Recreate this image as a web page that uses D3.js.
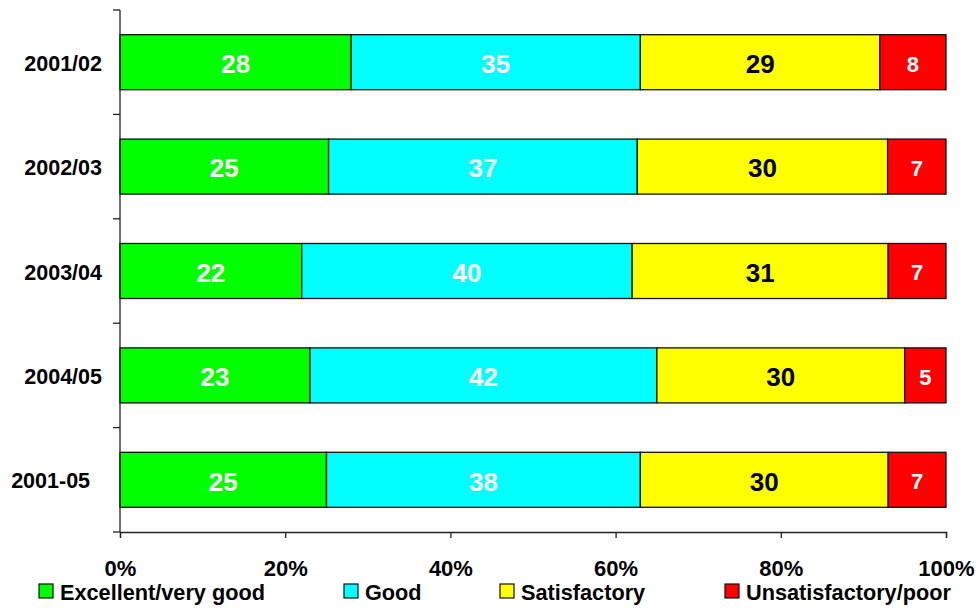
<!DOCTYPE html>
<html>
<head>
<meta charset="utf-8">
<script src="https://cdn.jsdelivr.net/npm/d3@7"></script>
<style>
  html, body { margin: 0; padding: 0; background: #fff; }
  svg { display: block; font-family: "Liberation Sans", Arial, sans-serif; font-weight: bold; }
</style>
</head>
<body>
<svg id="chart" width="979" height="608"></svg>
<script>
// Survey periods (top to bottom); trailing spaces keep the original label offset
const periods = ["2001/02", "2002/03", "2003/04", "2004/05", "2001-05  "];

// Rating categories, in stacking order
const ratings = ["Excellent/very good", "Good", "Satisfactory", "Unsatisfactory/poor"];

// Share of each rating per period (%)
const excellent = [28, 25, 22, 23, 25];
const good = [35, 37, 40, 42, 38];
const satisfactory = [29, 30, 31, 30, 30];
const poor = [8, 7, 7, 5, 7];

const xTicks = [0, 0.2, 0.4, 0.6, 0.8, 1];

const colors = ["#00ff00", "#00ffff", "#ffff00", "#ff0000"];
const labelColors = ["#ffffff", "#ffffff", "#000000", "#ffffff"];
const labelSizes = [26, 26, 26, 22];

const seriesValues = [excellent, good, satisfactory, poor];

const svg = d3.select("#chart");
const plotLeft = 120, plotRight = 946, plotTop = 10, plotBottom = 532;

const x = d3.scaleLinear().domain([0, 1]).range([plotLeft, plotRight]);
const y = d3.scaleBand().domain(periods).range([plotTop, plotBottom]).paddingInner(0.473).paddingOuter(0.2365);

// Build normalised stacks (100% bars)
const rows = periods.map((p, i) => {
  const vals = seriesValues.map(s => s[i]);
  const total = d3.sum(vals);
  let acc = 0;
  return vals.map((v, k) => {
    const seg = { period: p, value: v, k, x0: acc / total, x1: (acc + v) / total };
    acc += v;
    return seg;
  });
});

const g = svg.append("g");

rows.forEach(row => {
  const rg = g.append("g");
  rg.selectAll("rect")
    .data(row)
    .join("rect")
    .attr("x", d => x(d.x0))
    .attr("y", d => y(d.period))
    .attr("width", d => x(d.x1) - x(d.x0))
    .attr("height", y.bandwidth())
    .attr("fill", d => colors[d.k])
    .attr("stroke", "#111")
    .attr("stroke-width", 1.3);

  rg.selectAll("text")
    .data(row)
    .join("text")
    .attr("x", d => (x(d.x0) + x(d.x1)) / 2)
    .attr("y", d => y(d.period) + y.bandwidth() / 2 + labelSizes[d.k] * 0.36 + 1.5)
    .attr("text-anchor", "middle")
    .attr("font-size", d => labelSizes[d.k])
    .attr("fill", d => labelColors[d.k])
    .text(d => d.value);
});

// Y axis: line with ticks at band boundaries
const yAxis = svg.append("g").attr("stroke", "#222").attr("stroke-width", 1.3);
yAxis.append("line").attr("x1", plotLeft).attr("x2", plotLeft).attr("y1", plotTop).attr("y2", plotBottom);
const step = (plotBottom - plotTop) / periods.length;
d3.range(periods.length + 1).forEach(i => {
  yAxis.append("line")
    .attr("x1", plotLeft - 7).attr("x2", plotLeft)
    .attr("y1", plotTop + i * step).attr("y2", plotTop + i * step);
});

// Category labels
svg.append("g").selectAll("text")
  .data(periods)
  .join("text")
  .attr("x", 102)
  .attr("y", d => y(d) + y.bandwidth() / 2 + 8.5)
  .attr("text-anchor", "end")
  .attr("font-size", 21.5)
  .attr("fill", "#000")
  .style("white-space", "pre")
  .text(d => d);

// X axis
const xAxis = svg.append("g")
  .attr("transform", `translate(0,${plotBottom})`)
  .call(d3.axisBottom(x).tickValues(xTicks).tickFormat(d3.format(".0%")).tickSize(6).tickPadding(22));
xAxis.select(".domain").attr("stroke", "#222").attr("stroke-width", 1.3);
xAxis.selectAll(".tick line").attr("stroke", "#222").attr("stroke-width", 1.3);
xAxis.selectAll(".tick text")
  .attr("font-family", "Liberation Sans, Arial, sans-serif")
  .attr("font-weight", "bold")
  .attr("font-size", 22)
  .attr("fill", "#000");

// Legend
const legendX = [39, 344, 500, 725];
const legend = svg.append("g").selectAll("g")
  .data(ratings)
  .join("g")
  .attr("transform", (d, i) => `translate(${legendX[i]},584)`);
legend.append("rect")
  .attr("width", 14).attr("height", 14)
  .attr("fill", (d, i) => colors[i])
  .attr("stroke", "#111").attr("stroke-width", 1.2);
legend.append("text")
  .attr("x", 21).attr("y", 15.5)
  .attr("font-size", 21.7)
  .attr("fill", "#000")
  .text(d => d);
</script>
</body>
</html>
